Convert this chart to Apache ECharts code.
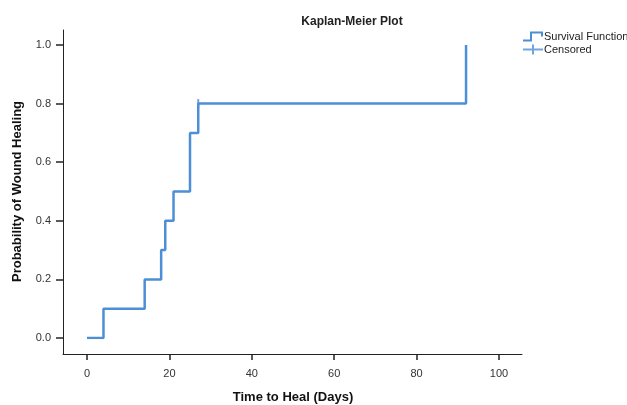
<!DOCTYPE html>
<html>
<head>
<meta charset="utf-8">
<script src="https://cdn.jsdelivr.net/npm/echarts@6/dist/echarts.min.js"></script>
<style>
  html, body { margin: 0; padding: 0; background: #fff; }
  #myChart { width: 627px; height: 405px; }
</style>
</head>
<body>
<div id="myChart"></div>
<script>
// Kaplan-Meier steps
var times = [0, 4, 14, 18, 19, 21, 25, 27, 92];
var probs = [0, 0.1, 0.2, 0.3, 0.4, 0.5, 0.7, 0.8, 1.0];
var censoredTimes = [27];
var censoredProbs = [0.8];

var lineColor = '#4d8fd6';
var axisColor = '#222';
var font = '"Liberation Sans", Arial, sans-serif';

var stepData = times.map(function (t, i) { return [t, probs[i]]; });
var censorData = censoredTimes.map(function (t, i) { return [t, censoredProbs[i]]; });

var myChart = echarts.init(document.getElementById('myChart'));

function hiddenAxis(idx) {
    return { gridIndex: idx, type: 'value', show: false, min: 0, max: 1 };
}

var option = {
    animation: false,
    title: {
        text: 'Kaplan-Meier Plot',
        left: 347,
        textAlign: 'center',
        top: 11,
        textStyle: { fontFamily: font, fontSize: 12, fontWeight: 'bold', color: '#222' }
    },
    legend: {
        orient: 'vertical',
        left: 523,
        top: 31,
        padding: 0,
        itemWidth: 20,
        itemHeight: 10,
        itemGap: 2,
        textStyle: { fontFamily: font, fontSize: 11, color: '#222', width: 120, overflow: 'none', padding: [0, 0, 0, -4] },
        data: [
            { name: 'Survival Function', icon: 'path://M0,8 L7,8 L7,0 L20,0 L20,5 L18,5 L18,2 L9,2 L9,10 L0,10 Z' },
            { name: 'Censored', icon: 'path://M0,4 L9,4 L9,0 L11,0 L11,4 L20,4 L20,6 L11,6 L11,10 L9,10 L9,6 L0,6 Z' }
        ]
    },
    // grid 0: long axis lines, grid 1: data, grids 2/3: tick marks (split lines)
    grid: [
        { left: 63, right: 105, top: 30, bottom: 51, outerBoundsMode: 'none' },
        { left: 87, right: 128, top: 45, bottom: 67, outerBoundsMode: 'none' },
        { left: 87, right: 128, top: 354, bottom: 45, outerBoundsMode: 'none' },
        { left: 56, right: 564, top: 45, bottom: 67, outerBoundsMode: 'none' }
    ],
    xAxis: [
        {
            gridIndex: 0, type: 'value', min: 0, max: 1,
            splitLine: { show: false }, axisTick: { show: false }, axisLabel: { show: false },
            axisLine: { show: true, onZero: false, lineStyle: { color: axisColor, width: 1 } }
        },
        {
            gridIndex: 1, type: 'value', min: 0, max: 100, interval: 20, offset: 16,
            name: 'Time to Heal (Days)',
            nameLocation: 'middle',
            nameGap: 37,
            nameTextStyle: { fontFamily: font, fontSize: 13, fontWeight: 'bold', color: '#111' },
            splitLine: { show: false },
            axisLine: { show: false, onZero: false },
            axisTick: { show: false },
            axisLabel: { fontFamily: font, fontSize: 11, color: '#333', margin: 14 }
        },
        {
            gridIndex: 2, type: 'value', min: 0, max: 100, interval: 20,
            axisLine: { show: false, onZero: false }, axisTick: { show: false }, axisLabel: { show: false },
            splitLine: { show: true, showMinLine: true, showMaxLine: true, lineStyle: { color: axisColor, width: 1.5 } }
        },
        hiddenAxis(3)
    ],
    yAxis: [
        {
            gridIndex: 0, type: 'value', min: 0, max: 1,
            splitLine: { show: false }, axisTick: { show: false }, axisLabel: { show: false },
            axisLine: { show: true, onZero: false, lineStyle: { color: axisColor, width: 1 } }
        },
        {
            gridIndex: 1, type: 'value', min: 0, max: 1, interval: 0.2, offset: 24,
            name: 'Probability of Wound Healing',
            nameLocation: 'middle',
            nameGap: 39,
            nameTextStyle: { fontFamily: font, fontSize: 13, fontWeight: 'bold', color: '#111' },
            splitLine: { show: false },
            axisLine: { show: false, onZero: false },
            axisTick: { show: false },
            axisLabel: {
                fontFamily: font, fontSize: 11, color: '#333', margin: 12,
                formatter: function (v) { return v.toFixed(1); }
            }
        },
        hiddenAxis(2),
        {
            gridIndex: 3, type: 'value', min: 0, max: 1, interval: 0.2,
            axisLine: { show: false, onZero: false }, axisTick: { show: false }, axisLabel: { show: false },
            splitLine: { show: true, showMinLine: true, showMaxLine: true, lineStyle: { color: axisColor, width: 1.5 } }
        }
    ],
    series: [
        {
            name: 'Survival Function',
            type: 'line',
            xAxisIndex: 1,
            yAxisIndex: 1,
            step: 'end',
            data: stepData,
            showSymbol: false,
            color: lineColor,
            lineStyle: { color: lineColor, width: 2.5 }
        },
        {
            name: 'Censored',
            type: 'scatter',
            xAxisIndex: 1,
            yAxisIndex: 1,
            data: censorData,
            symbol: 'path://M0,0 L2,0 L2,10 L0,10 Z',
            symbolSize: [2, 9],
            color: lineColor,
            itemStyle: { color: lineColor }
        }
    ]
};

myChart.setOption(option);
</script>
</body>
</html>
